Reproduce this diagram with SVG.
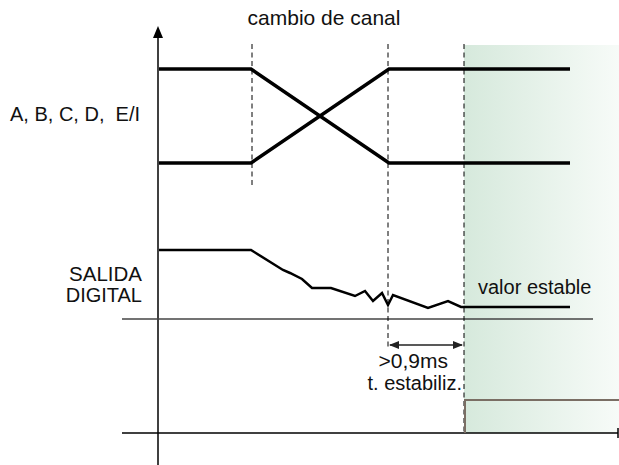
<svg xmlns="http://www.w3.org/2000/svg" width="619" height="465" viewBox="0 0 619 465">
<style>
text{font-family:"Liberation Sans",Arial,sans-serif;font-size:20px;fill:#111}
.sig{fill:none;stroke:#000;stroke-width:3.5;stroke-linejoin:miter}
.dig{fill:none;stroke:#000;stroke-width:2.5;stroke-linejoin:miter}
.dash{fill:none;stroke:#000;stroke-width:1;stroke-dasharray:5,3.5}
.ax{fill:none;stroke:#000;stroke-width:1.5}
.ref{fill:none;stroke:#444;stroke-width:1.5}
</style>
<defs>
<linearGradient id="g" x1="0" y1="0" x2="1" y2="0">
<stop offset="0" stop-color="#d6e9dc"/>
<stop offset="1" stop-color="#f7fbf8"/>
</linearGradient>
<marker id="ah" markerWidth="10" markerHeight="8" refX="9" refY="4" orient="auto-start-reverse" markerUnits="userSpaceOnUse">
<path d="M0,0 L10,4 L0,8 Z" fill="#222"/>
</marker>
</defs>
<rect id="zone" x="464" y="45" width="155" height="388" fill="url(#g)"/>
<g id="axes">
<line class="ax" x1="158" y1="36" x2="158" y2="465"/>
<path d="M158,26 L153,38 L163,38 Z" fill="#000"/>
<line class="ax" x1="122" y1="433" x2="618" y2="433"/>
<line class="ax" x1="618" y1="428" x2="618" y2="438"/>
<line class="ref" x1="122" y1="319" x2="593" y2="319"/>
</g>
<g id="connectors">
<line class="dash" x1="252" y1="44" x2="252" y2="188"/>
<line class="dash" x1="388" y1="44" x2="388" y2="350"/>
<line class="dash" x1="464" y1="44" x2="464" y2="435"/>
<line x1="390" y1="345" x2="462" y2="345" stroke="#222" stroke-width="1.5" marker-start="url(#ah)" marker-end="url(#ah)"/>
</g>
<g id="signals-abcd">
<polyline class="sig" points="159,69 251,69 389,163 570,163"/>
<polyline class="sig" points="159,163 251,163 389,69 570,69"/>
</g>
<g id="digital">
<polyline class="dig" points="159,250 251,250 283,270 290,273 302,279 312,288 331,288 355,296 365,291 373,301 382,293 388,305 393,295 428,308 448,301 461,307 570,307"/>
</g>
<g id="step">
<polyline points="465,433 465,400 619,400" fill="none" stroke="#7a6e64" stroke-width="2"/>
</g>
<g id="labels">
<text x="324" y="25" text-anchor="middle" style="font-size:21px">cambio de canal</text>
<text x="10" y="121">A, B, C, D,&#160; E/I</text>
<text x="142" y="281" text-anchor="end" style="font-size:20.5px">SALIDA</text>
<text x="142" y="302" text-anchor="end">DIGITAL</text>
<text x="478" y="294">valor estable</text>
<text x="448" y="368" text-anchor="end" style="font-size:21px">&gt;0,9ms</text>
<text x="462" y="390" text-anchor="end">t. estabiliz.</text>
</g>
</svg>
